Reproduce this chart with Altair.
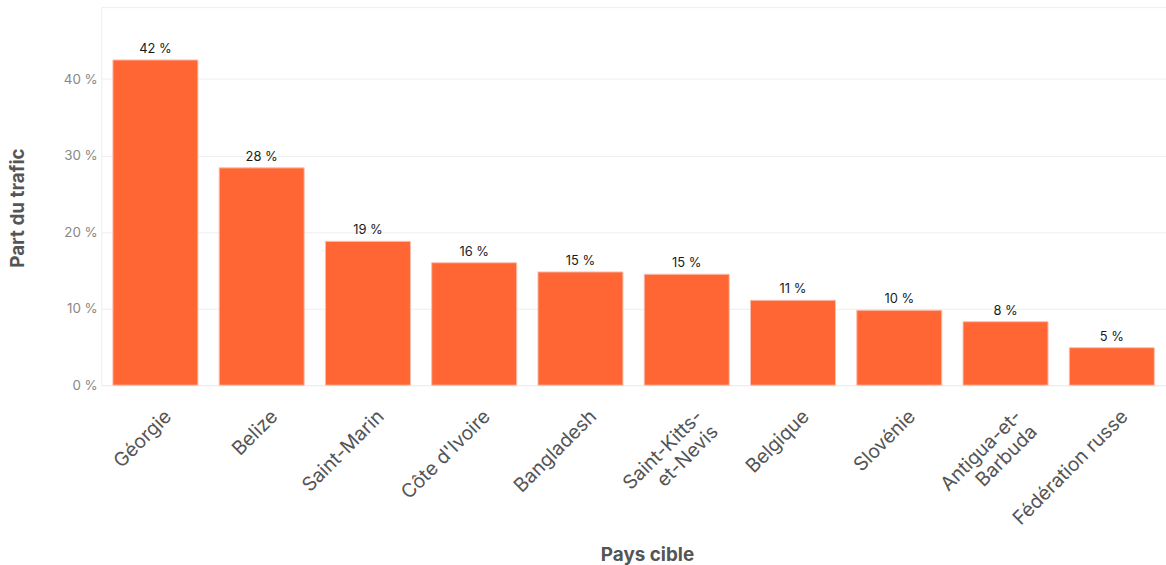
import altair as alt
import pandas as pd

countries = ["Géorgie", "Belize", "Saint-Marin", "Côte d'Ivoire", "Bangladesh",
             "Saint-Kitts-|et-Nevis", "Belgique", "Slovénie", "Antigua-et-|Barbuda",
             "Fédération russe"]
shares = [42.5, 28.4, 18.8, 16.0, 14.8, 14.5, 11.1, 9.8, 8.3, 4.9]
labels = ["42 %", "28 %", "19 %", "16 %", "15 %", "15 %", "11 %", "10 %", "8 %", "5 %"]
y_ticks = [0, 10, 20, 30, 40]

df = pd.DataFrame({"pays": countries, "part": shares, "lab": labels})

FONT = "Inter"

base = alt.Chart(df).encode(
    x=alt.X("pays:N", sort=countries, title="Pays cible",
            scale=alt.Scale(paddingInner=0.2, paddingOuter=0.11),
            axis=alt.Axis(labelAngle=-45, labelAlign="right", labelBaseline="middle",
                          labelFontSize=19.5, labelColor="#555555", labelFont=FONT,
                          labelExpr="split(datum.label, '|')", labelLineHeight=22,
                          labelPadding=28, labelOffset=13, ticks=False, domain=False,
                          titleFontSize=19, titleFontWeight="bold", titleColor="#555555",
                          titleFont=FONT, titlePadding=18, titleX=550,
                          labelOverlap=False)),
)

bars = base.mark_bar(color="#ff6633", stroke="#f8c0b0", strokeWidth=1).encode(
    y=alt.Y("part:Q", title="Part du trafic",
            scale=alt.Scale(domain=[0, 49.4], nice=False),
            axis=alt.Axis(values=y_ticks, labelExpr="datum.value + ' %'",
                          labelFontSize=13.5, labelColor="#888888", labelFont=FONT,
                          ticks=False, domain=False, labelPadding=4,
                          gridColor="#eeeeee",
                          titleFontSize=19, titleFontWeight="bold", titleColor="#555555",
                          titleFont=FONT, titlePadding=36, titleY=202)),
)

text = base.mark_text(dy=-11, fontSize=13, color="#1a1a1a", font=FONT).encode(
    y=alt.Y("part:Q"),
    text="lab:N",
)

chart = (bars + text).properties(
    width=1073, height=381,
    padding={"left": 8, "top": 5, "right": 0, "bottom": 0},
).configure_view(stroke="#eeeeee")

chart.save("out.html", embed_options={"renderer": "svg", "actions": False})
